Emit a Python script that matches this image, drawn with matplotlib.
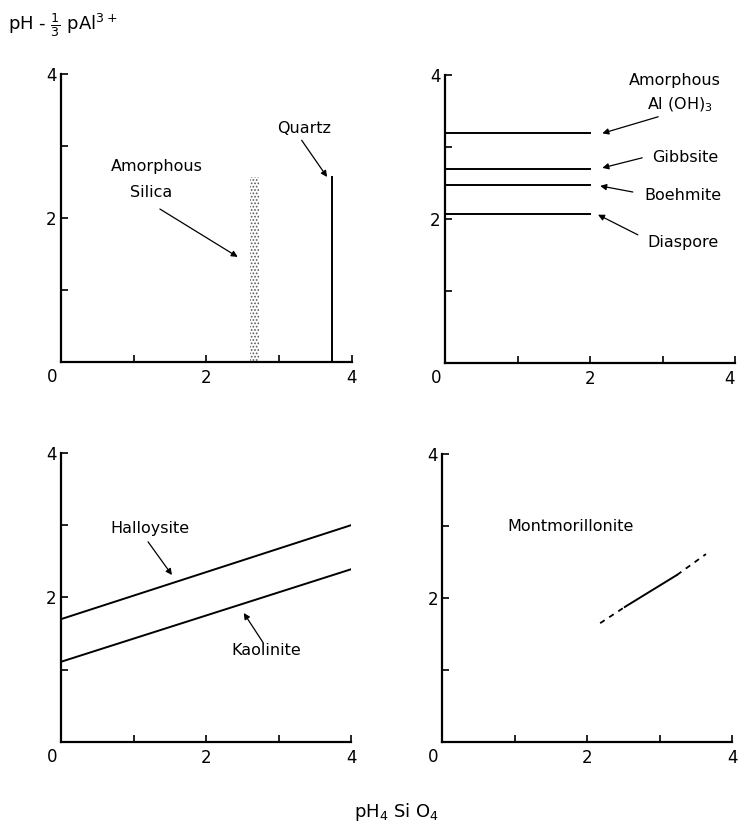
import numpy as np
import matplotlib
matplotlib.use("Agg")
import matplotlib.pyplot as plt

# top-left: silica phases (vertical boundaries)
quartz_x = 3.73
quartz_top = 2.57
silica_x = [2.60, 2.72]
silica_top = 2.57

# top-right: aluminium hydroxides (horizontal lines from 0 to 2)
alox_names = ["Amorphous Al(OH)3", "Gibbsite", "Boehmite", "Diaspore"]
alox_y = [3.20, 2.69, 2.47, 2.07]
alox_xend = 2.0

# bottom-left: kaolin minerals (straight lines)
kaol_x = [0, 4]
halloysite_y = [1.70, 3.00]
kaolinite_y = [1.11, 2.39]

# bottom-right: montmorillonite (dashed - solid - dashed)
mont_x = [2.18, 2.52, 3.24, 3.64]
mont_y = [1.65, 1.875, 2.32, 2.61]

plt.rcParams['font.family'] = ['DejaVu Sans']
plt.rcParams['hatch.linewidth'] = 0.8

fig = plt.figure(figsize=(7.38, 8.26), dpi=100)
ax_tl = fig.add_axes([0.0827, 0.5617, 0.394, 0.3487])
ax_tr = fig.add_axes([0.603, 0.5605, 0.393, 0.3487])
ax_bl = fig.add_axes([0.0827, 0.1017, 0.393, 0.35])
ax_br = fig.add_axes([0.599, 0.1017, 0.393, 0.3487])

arrow = dict(arrowstyle='-|>', lw=0.9, color='black', mutation_scale=9, shrinkA=0, shrinkB=0)
fs = 12
tfs = 11.5

for ax in [ax_tl, ax_tr, ax_bl, ax_br]:
    ax.set_xlim(0, 4)
    ax.set_ylim(0, 4)
    ax.spines['top'].set_visible(False)
    ax.spines['right'].set_visible(False)
    ax.spines['left'].set_linewidth(1.6)
    ax.spines['bottom'].set_linewidth(1.6)
    ax.set_xticks([0, 1, 2, 3, 4])
    ax.set_xticklabels(['', '', '2', '', '4'])
    ax.set_yticks([0, 1, 2, 3, 4])
    ax.set_yticklabels(['', '', '2', '', '4'])
    ax.tick_params(direction='in', length=5, width=1.2, labelsize=fs, pad=5)
    ax.tick_params(axis='y', pad=3)
    ax.annotate('0', xy=(0, 0), xytext=(-9, -15), textcoords='offset pixels',
                ha='center', va='center', fontsize=fs, annotation_clip=False)

# the right-hand "4" of the top-right panel sits at the figure edge
ax_tr.get_xticklabels()[-1].set_horizontalalignment('right')

# top-left
ax_tl.plot([quartz_x, quartz_x], [0, quartz_top], color='black', lw=1.4)
ax_tl.fill_betweenx([0, silica_top], silica_x[0], silica_x[1], facecolor='none',
                    edgecolor='0.35', hatch='.....', linewidth=0)
ax_tl.text(3.35, 3.25, 'Quartz', ha='center', va='center', fontsize=tfs)
ax_tl.annotate('', xy=(3.66, 2.57), xytext=(3.31, 3.08), arrowprops=arrow)
ax_tl.text(1.32, 2.71, 'Amorphous', ha='center', va='center', fontsize=tfs)
ax_tl.text(1.24, 2.36, 'Silica', ha='center', va='center', fontsize=tfs)
ax_tl.annotate('', xy=(2.43, 1.46), xytext=(1.36, 2.125), arrowprops=arrow)

# top-right
for yv in alox_y:
    ax_tr.plot([0, alox_xend], [yv, yv], color='black', lw=1.4)
ax_tr.text(3.17, 3.93, 'Amorphous', ha='center', va='center', fontsize=tfs)
ax_tr.text(3.24, 3.58, 'Al (OH)$_3$', ha='center', va='center', fontsize=tfs)
ax_tr.annotate('', xy=(2.17, 3.19), xytext=(2.94, 3.42), arrowprops=arrow)
ax_tr.text(3.31, 2.86, 'Gibbsite', ha='center', va='center', fontsize=tfs)
ax_tr.annotate('', xy=(2.17, 2.71), xytext=(2.72, 2.85), arrowprops=arrow)
ax_tr.text(3.28, 2.33, 'Boehmite', ha='center', va='center', fontsize=tfs)
ax_tr.annotate('', xy=(2.14, 2.46), xytext=(2.59, 2.375), arrowprops=arrow)
ax_tr.text(3.28, 1.67, 'Diaspore', ha='center', va='center', fontsize=tfs)
ax_tr.annotate('', xy=(2.11, 2.06), xytext=(2.66, 1.78), arrowprops=arrow)

# bottom-left
ax_bl.plot(kaol_x, halloysite_y, color='black', lw=1.4)
ax_bl.plot(kaol_x, kaolinite_y, color='black', lw=1.4)
ax_bl.text(1.23, 2.96, 'Halloysite', ha='center', va='center', fontsize=tfs)
ax_bl.annotate('', xy=(1.53, 2.31), xytext=(1.20, 2.77), arrowprops=arrow)
ax_bl.text(2.83, 1.26, 'Kaolinite', ha='center', va='center', fontsize=tfs)
ax_bl.annotate('', xy=(2.52, 1.785), xytext=(2.79, 1.37), arrowprops=arrow)

# bottom-right
ax_br.plot(mont_x[0:2], mont_y[0:2], color='black', lw=1.3, ls=(0, (3, 3)))
ax_br.plot(mont_x[1:3], mont_y[1:3], color='black', lw=1.4)
ax_br.plot(mont_x[2:4], mont_y[2:4], color='black', lw=1.3, ls=(0, (3, 3)))
ax_br.text(1.77, 2.99, 'Montmorillonite', ha='center', va='center', fontsize=tfs)

fig.text(8 / 738, 1 - 25 / 826, r'pH - $\frac{1}{3}$ pAl$^{3+}$', ha='left', va='center', fontsize=13)
fig.text(397 / 738, 1 - 812 / 826, r'pH$_4$ Si O$_4$', ha='center', va='center', fontsize=13)

fig.savefig('out.png', dpi=100)
